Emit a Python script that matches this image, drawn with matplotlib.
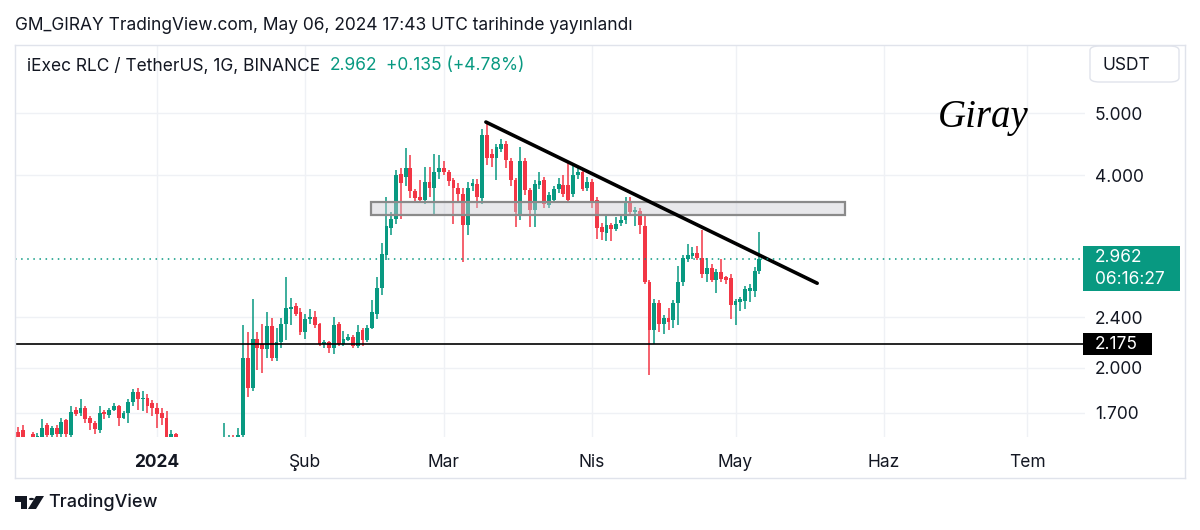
import datetime as dt
import numpy as np
import matplotlib
matplotlib.use("Agg")
import matplotlib.pyplot as plt
import matplotlib.dates as mdates
from matplotlib.patches import Rectangle, FancyBboxPatch, Polygon, Circle
from matplotlib.lines import Line2D
from matplotlib.ticker import NullLocator

plt.rcParams['font.family'] = ['Inter', 'DejaVu Sans']

# ---------------- data ----------------
first_day = dt.datetime(2023, 12, 3)
opens = [
    1.585, 1.60, 1.55, 1.575, 1.545, 1.56, 1.625, 1.57, 1.61, 1.575,
    1.655, 1.57, 1.72, 1.70, 1.73, 1.67, 1.64, 1.60, 1.705, 1.685,
    1.72, 1.745, 1.67, 1.70, 1.765, 1.83, 1.785, 1.795, 1.76,
    1.73, 1.70, 1.67, 1.53, 1.575, 1.54, 1.45, 1.47, 1.41, 1.44,
    1.42, 1.45, 1.44, 1.47, 1.49, 1.53, 1.55, 1.53, 1.57, 2.07,
    1.86, 2.22, 2.18, 2.14, 2.32, 2.07, 2.19, 2.34, 2.47, 2.50, 2.44,
    2.27, 2.385, 2.40, 2.34, 2.175, 2.19, 2.15, 2.34, 2.18, 2.21,
    2.23, 2.16, 2.29, 2.21, 2.31, 2.43, 2.66, 3.00, 3.30, 3.42,
    4.02, 3.97, 4.10, 3.77, 3.70, 3.66, 3.90, 3.82, 4.04,
    4.10, 4.05, 3.93, 3.82, 3.73, 3.34, 3.85, 3.87, 3.68, 4.62,
    4.32, 4.25, 4.40, 4.47, 4.20, 3.93, 3.45, 4.20, 3.79, 3.53,
    3.86, 3.93, 3.59, 3.66, 3.80, 3.86, 3.86, 3.73, 4.00, 4.05, 3.82,
    3.90, 3.66, 3.32, 3.25, 3.34, 3.29, 3.36, 3.40, 3.62, 3.50,
    3.52, 3.33, 2.72, 2.29, 2.52, 2.34, 2.39, 2.37, 2.52, 2.72,
    2.96, 2.99, 3.02, 2.97, 2.80, 2.86, 2.74, 2.82, 2.77, 2.76,
    2.51, 2.53, 2.54, 2.64, 2.64, 2.827,
]
highs = [
    1.615, 1.625, 1.555, 1.585, 1.58, 1.66, 1.64, 1.62, 1.63, 1.67,
    1.665, 1.74, 1.735, 1.79, 1.74, 1.68, 1.65, 1.74, 1.72, 1.73,
    1.76, 1.75, 1.71, 1.79, 1.85, 1.86, 1.84, 1.82, 1.78,
    1.76, 1.73, 1.71, 1.60, 1.58, 1.55, 1.50, 1.49, 1.46, 1.48,
    1.47, 1.50, 1.49, 1.52, 1.64, 1.57, 1.57, 1.61, 2.33, 2.27,
    2.56, 2.27, 2.34, 2.44, 2.39, 2.31, 2.39, 2.77, 2.57, 2.52, 2.48,
    2.43, 2.47, 2.45, 2.35, 2.21, 2.20, 2.40, 2.36, 2.28, 2.26,
    2.25, 2.33, 2.31, 2.33, 2.55, 2.77, 3.13, 3.70, 3.50, 4.07,
    4.10, 4.41, 4.30, 3.80, 3.93, 4.12, 4.11, 4.32, 4.30,
    4.20, 4.08, 3.96, 3.88, 3.82, 3.90, 3.95, 3.95, 4.72, 4.85,
    4.40, 4.48, 4.55, 4.52, 4.25, 3.96, 4.42, 4.25, 3.82, 3.93,
    4.05, 3.97, 3.76, 3.84, 3.96, 4.00, 4.18, 4.18, 4.12, 4.08, 3.97,
    3.94, 3.70, 3.36, 3.46, 3.36, 3.44, 3.46, 3.69, 3.70, 3.56,
    3.55, 3.45, 2.74, 2.56, 2.55, 2.42, 2.48, 2.55, 2.88, 3.00,
    3.12, 3.09, 3.10, 3.28, 2.97, 2.90, 2.85, 2.96, 2.78, 2.80,
    2.56, 2.58, 2.68, 2.70, 2.87, 3.26,
]
lows = [
    1.50, 1.52, 1.49, 1.51, 1.52, 1.54, 1.55, 1.55, 1.55, 1.56,
    1.56, 1.56, 1.68, 1.68, 1.64, 1.60, 1.575, 1.58, 1.66, 1.67,
    1.71, 1.62, 1.66, 1.64, 1.74, 1.72, 1.71, 1.70, 1.68,
    1.61, 1.63, 1.50, 1.49, 1.50, 1.42, 1.40, 1.38, 1.37, 1.40,
    1.39, 1.42, 1.41, 1.44, 1.47, 1.49, 1.50, 1.51, 1.55, 1.80,
    1.84, 1.98, 1.96, 2.07, 2.05, 2.05, 2.15, 2.21, 2.33, 2.41, 2.25,
    2.22, 2.34, 2.31, 2.16, 2.15, 2.11, 2.10, 2.16, 2.16, 2.20,
    2.15, 2.15, 2.16, 2.19, 2.30, 2.38, 2.60, 2.95, 3.22, 3.35,
    3.42, 3.85, 3.68, 3.62, 3.63, 3.60, 3.70, 3.47, 3.95,
    4.00, 3.85, 3.35, 3.62, 2.92, 3.22, 3.78, 3.55, 3.60, 4.15,
    4.12, 3.93, 4.35, 4.10, 3.85, 3.32, 3.40, 3.72, 3.32, 3.32,
    3.80, 3.55, 3.55, 3.62, 3.75, 3.70, 3.64, 3.70, 3.95, 3.78, 3.78,
    3.55, 3.18, 3.17, 3.16, 3.16, 3.27, 3.33, 3.35, 3.46, 3.33,
    3.24, 2.70, 1.95, 2.18, 2.27, 2.26, 2.29, 2.31, 2.33, 2.68,
    2.92, 2.96, 2.95, 2.76, 2.72, 2.72, 2.62, 2.72, 2.70, 2.38,
    2.33, 2.45, 2.47, 2.53, 2.58, 2.80,
]
closes = [
    1.545, 1.555, 1.52, 1.545, 1.565, 1.61, 1.57, 1.61, 1.575, 1.645,
    1.575, 1.705, 1.69, 1.73, 1.66, 1.64, 1.605, 1.70, 1.69, 1.72,
    1.745, 1.67, 1.70, 1.765, 1.83, 1.785, 1.79, 1.745, 1.73,
    1.69, 1.67, 1.53, 1.575, 1.54, 1.45, 1.47, 1.41, 1.44, 1.42,
    1.45, 1.44, 1.47, 1.49, 1.53, 1.55, 1.53, 1.57, 2.07, 1.86,
    2.22, 2.15, 2.14, 2.32, 2.07, 2.19, 2.34, 2.48, 2.49, 2.43, 2.27,
    2.38, 2.40, 2.33, 2.18, 2.19, 2.15, 2.33, 2.18, 2.22, 2.23,
    2.16, 2.27, 2.21, 2.31, 2.44, 2.66, 3.01, 3.33, 3.42, 4.00,
    3.88, 4.10, 3.77, 3.68, 3.66, 3.90, 3.82, 4.05, 4.10,
    4.05, 3.92, 3.82, 3.74, 3.34, 3.82, 3.88, 3.70, 4.62, 4.25,
    4.26, 4.42, 4.47, 4.22, 3.93, 3.50, 4.20, 3.79, 3.53, 3.87,
    3.92, 3.60, 3.72, 3.80, 3.87, 3.73, 3.66, 4.00, 4.04, 3.81, 3.90,
    3.63, 3.31, 3.26, 3.34, 3.29, 3.35, 3.40, 3.62, 3.50, 3.53,
    3.34, 2.72, 2.29, 2.52, 2.34, 2.39, 2.36, 2.52, 2.72, 2.97,
    3.00, 3.02, 2.97, 2.80, 2.86, 2.74, 2.82, 2.75, 2.74, 2.51,
    2.54, 2.56, 2.65, 2.66, 2.827, 2.962,
]
month_ticks = [dt.datetime(2024, m, 1) for m in range(1, 8)]
month_labels = ['2024', 'Şub', 'Mar', 'Nis', 'May', 'Haz', 'Tem']
price_ticks = [1.7, 2.0, 2.4, 4.0, 5.0]
price_tick_labels = ['1.700', '2.000', '2.400', '4.000', '5.000']
last_price = 2.962
support_level = 2.175
zone_dates = [dt.datetime(2024, 2, 14, 19), dt.datetime(2024, 5, 24, 0)]
zone_prices = [3.46, 3.63]
trend_dates = [dt.datetime(2024, 3, 9, 19), dt.datetime(2024, 5, 18, 2)]
trend_prices = [4.84, 2.71]

GREEN = '#089981'
RED = '#F23645'
TXT = '#131722'
GRID = '#eff1f5'

W, H = 1200, 530
fig = plt.figure(figsize=(12, 5.3), dpi=100)
fig.patch.set_facecolor('white')


def fx(x):
    return x / W


def fy(y):
    return 1 - y / H


ax = fig.add_axes([fx(15), fy(437), fx(1085) - fx(15), fy(45) - fy(437)])
ax.set_facecolor('white')
for s in ax.spines.values():
    s.set_visible(False)

dates = [first_day + dt.timedelta(days=i) for i in range(len(closes))]
xs = mdates.date2num(dates)
o, h, l, c = (np.array(v) for v in (opens, highs, lows, closes))
up = c >= o
cols = np.where(up, GREEN, RED)

ax.set_yscale('log')
jan1 = mdates.date2num(dt.datetime(2024, 1, 1))
ax.set_xlim(jan1 - 29.7, jan1 + 194.1)
ax.set_ylim(1.5585, 6.386)

ax.vlines(xs, l, h, colors=cols, linewidth=1.1, zorder=3)
bottoms = np.minimum(o, c)
heights = np.maximum(np.abs(c - o), bottoms * 0.004)
ax.bar(xs, heights, bottom=bottoms, width=0.8, color=cols, linewidth=0, zorder=4)

# grid & ticks
ax.yaxis.set_minor_locator(NullLocator())
ax.xaxis.set_minor_locator(NullLocator())
ax.set_yticks(price_ticks)
ax.set_yticklabels(price_tick_labels)
ax.yaxis.tick_right()
ax.tick_params(axis='y', length=0, pad=7, labelsize=12.5, labelcolor=TXT)
ax.set_xticks(mdates.date2num(month_ticks))
ax.set_xticklabels(month_labels)
ax.tick_params(axis='x', length=0, pad=12, labelsize=12.5, labelcolor=TXT)
ax.get_xticklabels()[0].set_fontweight('bold')
ax.grid(True, color=GRID, linewidth=1.0, zorder=0)
ax.set_axisbelow(True)

# zone rectangle
zx = mdates.date2num(zone_dates)
ax.add_patch(Rectangle((zx[0], zone_prices[0]), zx[1] - zx[0], zone_prices[1] - zone_prices[0],
                       facecolor=(0.80, 0.80, 0.83, 0.45), edgecolor='#8a8a8a', linewidth=1.6, zorder=5))
# trend line
ax.plot(mdates.date2num(trend_dates), trend_prices, color='black', linewidth=2.6,
        solid_capstyle='round', zorder=6)
# horizontal lines
ax.axhline(support_level, color='black', linewidth=1.2, zorder=6)
ax.axhline(last_price, color=GREEN, linewidth=1.1, linestyle=(0, (1, 3)), zorder=6)

# ---- price labels on the right ----
def ypix(p):
    return ax.transData.transform((xs[0], p))[1]

yl = ypix(last_price) / H
fig.patches.append(Rectangle((fx(1083), yl - 32 / H), fx(1180) - fx(1083), 45 / H,
                             transform=fig.transFigure, facecolor=GREEN, edgecolor='none'))
fig.text(fx(1095), yl + 1 / H, '2.962', color='white', fontsize=12.5, va='center', ha='left')
fig.text(fx(1095), yl - 21 / H, '06:16:27', color='white', fontsize=12.5, va='center', ha='left')

ys = ypix(support_level) / H
fig.patches.append(Rectangle((fx(1083), ys - 11 / H), fx(1152) - fx(1083), 22 / H,
                             transform=fig.transFigure, facecolor='black', edgecolor='none'))
fig.text(fx(1095), ys, '2.175', color='white', fontsize=12.5, va='center', ha='left')

# USDT button
fig.patches.append(FancyBboxPatch((fx(1090), fy(82)), fx(1179) - fx(1090), fy(46) - fy(82),
                                  boxstyle='round,pad=0,rounding_size=0.008',
                                  transform=fig.transFigure, facecolor='white',
                                  edgecolor='#e0e3eb', linewidth=1.0))
fig.text(fx(1126), fy(65), 'USDT', color=TXT, fontsize=12.5, va='center', ha='center')

# frame lines
for (x0, y0, x1, y1) in [(15, 45, 1185, 45), (15, 478, 1185, 478), (15, 45, 15, 478), (1185, 45, 1185, 478)]:
    fig.lines.append(Line2D([fx(x0), fx(x1)], [fy(y0), fy(y1)], transform=fig.transFigure,
                            color='#e0e3eb', linewidth=1.0))

# header texts
fig.text(fx(15), fy(25), 'GM_GIRAY TradingView.com, May 06, 2024 17:43 UTC tarihinde yayınlandı',
         color=TXT, fontsize=12.5, va='center', ha='left')
fig.text(fx(27), fy(66), 'iExec RLC / TetherUS, 1G, BINANCE', color=TXT, fontsize=12.5,
         va='center', ha='left')
fig.text(fx(330), fy(66), '2.962', color=GREEN, fontsize=12.5, va='center', ha='left')
fig.text(fx(386), fy(66), '+0.135 (+4.78%)', color=GREEN, fontsize=12.5, va='center', ha='left')

# signature
fig.text(fx(983), fy(117), 'Giray', color='black', fontsize=28, va='center', ha='center',
         family=['Liberation Serif', 'DejaVu Serif'], style='italic')

# TradingView logo + name
fig.patches.append(Polygon([(fx(15), fy(496)), (fx(27), fy(496)), (fx(27), fy(509)), (fx(21), fy(509)),
                            (fx(21), fy(502)), (fx(15), fy(502))], closed=True,
                           transform=fig.transFigure, facecolor=TXT, edgecolor='none'))
fig.patches.append(Circle((fx(31.5), fy(499)), 2.6 / W, transform=fig.transFigure,
                          facecolor=TXT, edgecolor='none'))
fig.patches.append(Polygon([(fx(36), fy(496)), (fx(44), fy(496)), (fx(36), fy(509)), (fx(28), fy(509))],
                           closed=True, transform=fig.transFigure, facecolor=TXT, edgecolor='none'))
fig.text(fx(48), fy(502), 'TradingView', color=TXT, fontsize=13, va='center', ha='left',
         fontweight='medium')

fig.savefig('out.png', dpi=100, facecolor='white')
